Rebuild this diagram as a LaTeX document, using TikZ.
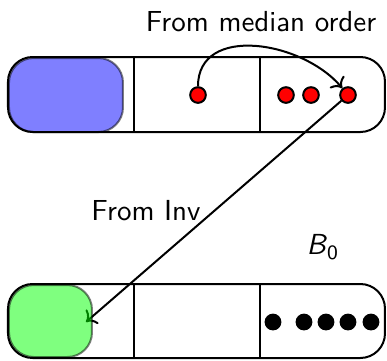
\documentclass[tikz,border=0pt]{standalone}
\usetikzlibrary{arrows.meta}
\begin{document}
\begin{tikzpicture}[x=0.345pt,y=-0.345pt,line width=0.69pt,
  every node/.style={font=\sffamily},
  reddot/.style={circle,draw=black,fill=red,inner sep=0pt,minimum size=5.4pt},
  blackdot/.style={circle,fill=black,inner sep=0pt,minimum size=5.8pt},
  bar/.style={draw=black,rounded corners=8.5pt},
  cell/.style={rounded corners=8.5pt,draw=black,draw opacity=0.5,fill opacity=0.5},
  lbl/.style={inner sep=0pt}]
\useasboundingbox (0,0) rectangle (387,360);
% top bar
\path[cell,fill=blue] (9,58) rectangle (123,132);
\draw[bar] (8,57) rectangle (385,132);
\draw (134,57) -- (134,132);
\draw (260,57) -- (260,132);
\node[reddot] (r1) at (198,95) {};
\node[reddot] (r2) at (286,95) {};
\node[reddot] (r3) at (311,95) {};
\node[reddot] (r4) at (348,95) {};
% bottom bar
\node[blackdot] (k1) at (273,322) {};
\node[blackdot] (k2) at (304,322) {};
\node[blackdot] (k3) at (326,322) {};
\node[blackdot] (k4) at (348,322) {};
\node[blackdot] (k5) at (371,322) {};
\coordinate (g) at (86,322);
\draw[->] (r4) -- (g);
\draw[->] (r1) to[out=90,in=130,looseness=1.1] (r4);
\path[cell,fill=green] (9,285) rectangle (92,357);
\draw[bar] (8,284) rectangle (385,358);
\draw (134,284) -- (134,358);
\draw (260,284) -- (260,358);
% labels
\node[lbl] (t1) at (261,22) {From median order};
\node[lbl] (t2) at (146,211) {From Inv};
\node[lbl] (t3) at (323,247) {\textit{B}\textsubscript{0}};
\end{tikzpicture}
\end{document}
